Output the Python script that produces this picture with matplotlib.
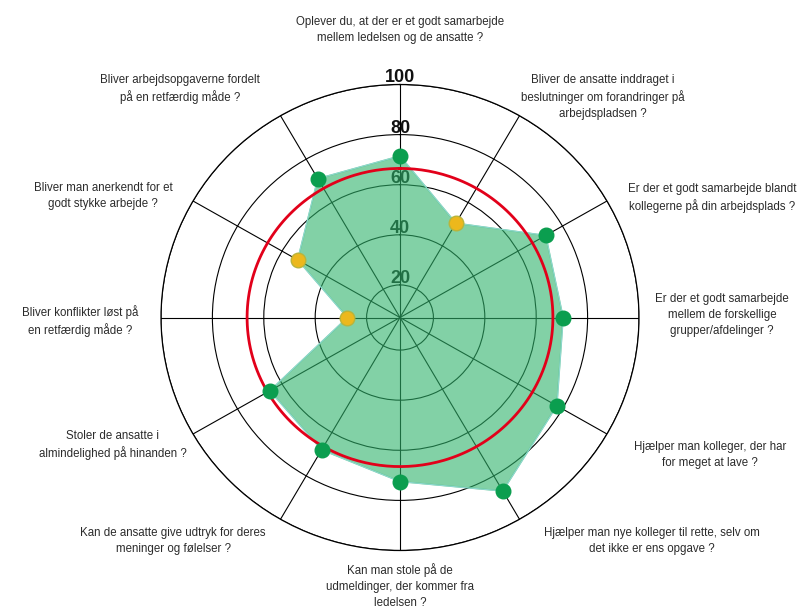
import numpy as np
from matplotlib import pyplot as plt

# questions, clockwise from the top
questions = [
    "Oplever du, at der er et godt samarbejde\nmellem ledelsen og de ansatte ?",
    "Bliver de ansatte inddraget i\nbeslutninger om forandringer på\narbejdspladsen ?",
    "Er der et godt samarbejde blandt\nkollegerne på din arbejdsplads ?",
    "Er der et godt samarbejde\nmellem de forskellige\ngrupper/afdelinger ?",
    "Hjælper man kolleger, der har\nfor meget at lave ?",
    "Hjælper man nye kolleger til rette, selv om\ndet ikke er ens opgave ?",
    "Kan man stole på de\nudmeldinger, der kommer fra\nledelsen ?",
    "Kan de ansatte give udtryk for deres\nmeninger og følelser ?",
    "Stoler de ansatte i\nalmindelighed på hinanden ?",
    "Bliver konflikter løst på\nen retfærdig måde ?",
    "Bliver man anerkendt for et\ngodt stykke arbejde ?",
    "Bliver arbejdsopgaverne fordelt\npå en retfærdig måde ?",
]
scores = [71.5, 50.5, 72.5, 70.5, 77.5, 87, 72.5, 68, 65.5, 27.5, 53, 71]
benchmark = 66.5
threshold = 60
ring_ticks = [20, 40, 60, 80, 100]

# label centres in pixels (x from left, y from top)
label_pos = [(400, 30), (603, 97), (712, 198), (722, 315), (710, 455), (652, 541),
             (400, 586), (173, 541), (113, 445), (80, 321), (103, 196), (180, 89)]

W, H = 809, 612
fig = plt.figure(figsize=(W / 100, H / 100), dpi=100)
cx, cy, rx, ry = 400, 317.5, 239, 233
ax = fig.add_axes([(cx - rx) / W, 1 - (cy + ry) / H, 2 * rx / W, 2 * ry / H], projection='polar')
ax.set_aspect('auto')
ax.set_theta_zero_location('N')
ax.set_theta_direction(-1)
ax.set_ylim(7, 100)

n = len(questions)
angles = np.arange(n) * 2 * np.pi / n

ax.set_xticks(angles)
ax.set_xticklabels([])
ax.set_yticks(ring_ticks)
ax.set_yticklabels([])
ax.grid(True, color='black', linewidth=0.8)
ax.spines['polar'].set_color('black')
ax.spines['polar'].set_linewidth(0.9)

# ring labels on the top spoke
for t in ring_ticks:
    ax.text(0, t + 0.8, str(t), ha='center', va='baseline', fontsize=13,
            fontweight='bold', color='#111111', zorder=1, family='Liberation Sans')

closed_a = np.append(angles, angles[0])
closed_v = np.append(scores, scores[0])
ax.fill(closed_a, closed_v, color='#2fb36b', alpha=0.6, zorder=3)
ax.plot(closed_a, closed_v, color='#8fd8d0', linewidth=0.8, zorder=3)

circle_t = np.linspace(0, 2 * np.pi, 400)
ax.plot(circle_t, np.full_like(circle_t, benchmark), color='#e2001a', linewidth=2, zorder=4)

for a, v in zip(angles, scores):
    if v < threshold:
        ax.plot(a, v, 'o', markersize=10.5, color='#ecb81c', markeredgecolor='#b9b43a',
                markeredgewidth=1, zorder=5)
    else:
        ax.plot(a, v, 'o', markersize=10.5, color='#0b9e4f', markeredgecolor='#0b9e4f', zorder=5)

for q, (px, py) in zip(questions, label_pos):
    fig.text(px / W, 1 - py / H, q, ha='center', va='center', fontsize=8.3,
             color='#2b2b2b', linespacing=1.45, family='Liberation Sans')

fig.savefig('out.png', dpi=100)
